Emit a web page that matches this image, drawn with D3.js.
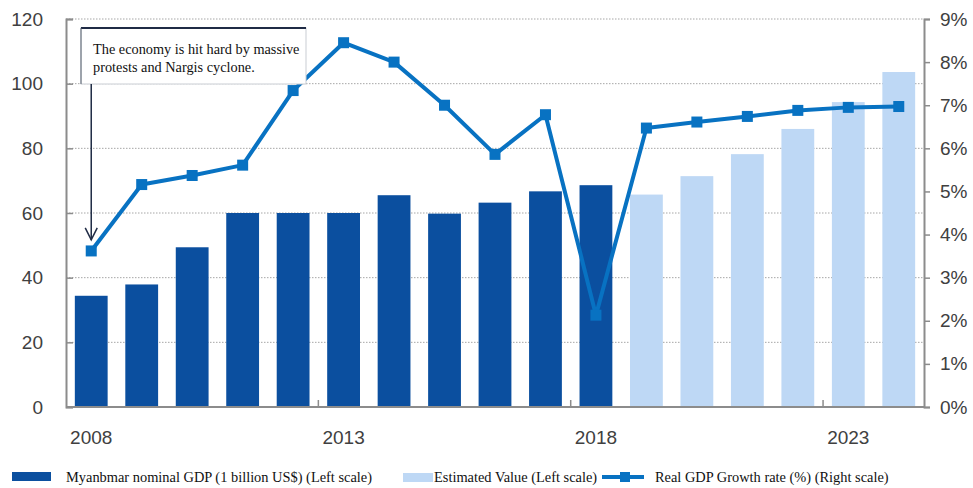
<!DOCTYPE html>
<html>
<head>
<meta charset="utf-8">
<script src="https://cdn.jsdelivr.net/npm/d3@7"></script>
<style>
  html, body { margin: 0; padding: 0; background: #fff; }
  svg { display: block; }
</style>
</head>
<body>
<svg id="chart" width="973" height="488"></svg>
<script>
// Myanmar nominal GDP (billion US$) and real GDP growth rate (%)
const years = [2008, 2009, 2010, 2011, 2012, 2013, 2014, 2015, 2016, 2017, 2018,
               2019, 2020, 2021, 2022, 2023, 2024];
const nominalGDP = [34.4, 37.9, 49.4, 60.0, 60.0, 60.0, 65.5, 59.8, 63.2, 66.7, 68.6,
                    null, null, null, null, null, null];
const estimatedGDP = [null, null, null, null, null, null, null, null, null, null, null,
                      65.7, 71.4, 78.2, 86.0, 94.3, 103.6];
const growthRate = [3.62, 5.16, 5.37, 5.61, 7.34, 8.45, 8.0, 7.0, 5.86, 6.78, 2.13,
                    6.47, 6.61, 6.74, 6.88, 6.95, 6.97];
const leftTicks = [0, 20, 40, 60, 80, 100, 120];
const rightTicks = [0, 1, 2, 3, 4, 5, 6, 7, 8, 9];
const yearLabels = [2008, 2013, 2018, 2023];
const annotationLines = ["The economy is hit hard by massive", "protests and Nargis cyclone."];
const legendLabels = ["Myanbmar nominal GDP (1 billion US$) (Left scale)",
                      "Estimated Value (Left scale)",
                      "Real GDP Growth rate (%) (Right scale)"];

const colDark = "#0b4f9f";
const colLight = "#bed8f5";
const colLine = "#0872c2";
const colAxis = "#8c8c8c";
const colText = "#404040";
const sansFont = "'Liberation Sans', Arial, sans-serif";
const serifFont = "'Liberation Serif', 'Times New Roman', serif";

const svg = d3.select("#chart");
const plotL = 66, plotR = 924, plotT = 19, plotB = 407;

const x = d3.scaleBand().domain(years).range([plotL, plotR]).paddingInner(0.35).paddingOuter(0.175);
const yL = d3.scaleLinear().domain([0, 120]).range([plotB, plotT]);
const yR = d3.scaleLinear().domain([0, 9]).range([plotB, plotT]);

// dotted gridlines on the left scale
svg.append("g").selectAll("line")
  .data(leftTicks.filter(d => d > 0))
  .join("line")
  .attr("x1", plotL).attr("x2", plotR)
  .attr("y1", d => yL(d)).attr("y2", d => yL(d))
  .attr("stroke", "#a6a6a6").attr("stroke-width", 1)
  .attr("stroke-dasharray", "1.5,1.5");

// bars: actual and estimated
const bars = svg.append("g");
bars.selectAll("rect.actual")
  .data(years.map((y, i) => ({ y, v: nominalGDP[i] })).filter(d => d.v != null))
  .join("rect").attr("class", "actual")
  .attr("x", d => x(d.y)).attr("width", x.bandwidth())
  .attr("y", d => yL(d.v)).attr("height", d => yL(0) - yL(d.v))
  .attr("fill", colDark);
bars.selectAll("rect.est")
  .data(years.map((y, i) => ({ y, v: estimatedGDP[i] })).filter(d => d.v != null))
  .join("rect").attr("class", "est")
  .attr("x", d => x(d.y)).attr("width", x.bandwidth())
  .attr("y", d => yL(d.v)).attr("height", d => yL(0) - yL(d.v))
  .attr("fill", colLight);

// left axis
const axL = svg.append("g").attr("transform", `translate(${plotL},0)`)
  .call(d3.axisLeft(yL).tickValues(leftTicks).tickSize(-7).tickFormat(d3.format("d")));
axL.select(".domain").attr("stroke", colAxis).attr("stroke-width", 2);
axL.selectAll(".tick line").attr("stroke", colAxis).attr("stroke-width", 1.5);
axL.selectAll(".tick text").attr("x", -23).attr("fill", colText)
  .style("font-family", sansFont).style("font-size", "19px");

// right axis
const axR = svg.append("g").attr("transform", `translate(${plotR},0)`)
  .call(d3.axisRight(yR).tickValues(rightTicks).tickSize(6).tickFormat(d => d + "%"));
axR.select(".domain").attr("stroke", colAxis).attr("stroke-width", 2);
axR.selectAll(".tick line").attr("stroke", colAxis).attr("stroke-width", 1.5);
axR.selectAll(".tick text").attr("x", 16).attr("fill", colText)
  .style("font-family", sansFont).style("font-size", "19px");

// bottom axis: ticks every five years on band boundaries, labels centred on bands
const axB = svg.append("g");
axB.append("line").attr("x1", plotL).attr("x2", plotR).attr("y1", plotB).attr("y2", plotB)
  .attr("stroke", colAxis).attr("stroke-width", 2);
axB.selectAll("line.tk")
  .data([2013, 2018, 2023])
  .join("line").attr("class", "tk")
  .attr("x1", d => x(d) - x.step() * x.paddingInner() / 2)
  .attr("x2", d => x(d) - x.step() * x.paddingInner() / 2)
  .attr("y1", plotB).attr("y2", plotB - 7)
  .attr("stroke", colAxis).attr("stroke-width", 1.5);
axB.selectAll("text")
  .data(yearLabels)
  .join("text")
  .attr("x", d => x(d) + x.bandwidth() / 2)
  .attr("y", 444)
  .attr("text-anchor", "middle")
  .attr("fill", colText)
  .style("font-family", sansFont).style("font-size", "19px")
  .text(d => d);

// growth rate line with square markers
const pts = years.map((y, i) => ({ y, v: growthRate[i] }));
const line = d3.line().x(d => x(d.y) + x.bandwidth() / 2).y(d => yR(d.v));
svg.append("path").datum(pts)
  .attr("d", line).attr("fill", "none")
  .attr("stroke", colLine).attr("stroke-width", 4).attr("stroke-linejoin", "round");
svg.append("g").selectAll("rect")
  .data(pts).join("rect")
  .attr("x", d => x(d.y) + x.bandwidth() / 2 - 5.5)
  .attr("y", d => yR(d.v) - 5.5)
  .attr("width", 11).attr("height", 11)
  .attr("fill", colLine);

// annotation box with arrow to 2008
const note = svg.append("g");
const bx = 81, by = 28, bw = 225, bh = 56;
note.append("rect").attr("x", bx).attr("y", by).attr("width", bw).attr("height", bh)
  .attr("fill", "#fff").attr("stroke", "#c9cdd3").attr("stroke-width", 1);
note.append("line").attr("x1", bx).attr("x2", bx + bw).attr("y1", by).attr("y2", by)
  .attr("stroke", "#1f2b45").attr("stroke-width", 2);
note.append("line").attr("x1", bx).attr("x2", bx).attr("y1", by).attr("y2", by + bh)
  .attr("stroke", "#56606e").attr("stroke-width", 1);
note.selectAll("text").data(annotationLines).join("text")
  .attr("x", 93).attr("y", (d, i) => 54 + i * 18)
  .attr("fill", "#111")
  .style("font-family", serifFont).style("font-size", "14.3px")
  .text(d => d);
const ax0 = x(2008) + x.bandwidth() / 2;
const tipY = yR(growthRate[0]) - 11;
note.append("line").attr("x1", ax0).attr("x2", ax0).attr("y1", by + bh).attr("y2", tipY)
  .attr("stroke", "#1f2b45").attr("stroke-width", 1.5);
note.append("path")
  .attr("d", `M${ax0 - 6},${tipY - 12} L${ax0},${tipY} L${ax0 + 6},${tipY - 12}`)
  .attr("fill", "none").attr("stroke", "#1f2b45").attr("stroke-width", 1.5);

// legend
const lg = svg.append("g");
const ly = 477;
lg.append("rect").attr("x", 12).attr("y", ly - 5).attr("width", 39).attr("height", 9).attr("fill", colDark);
lg.append("rect").attr("x", 403).attr("y", ly - 4).attr("width", 30).attr("height", 9).attr("fill", colLight);
lg.append("line").attr("x1", 602).attr("x2", 644).attr("y1", ly).attr("y2", ly)
  .attr("stroke", colLine).attr("stroke-width", 4);
lg.append("rect").attr("x", 620).attr("y", ly - 5).attr("width", 10).attr("height", 10).attr("fill", colLine);
lg.selectAll("text").data(legendLabels).join("text")
  .attr("x", (d, i) => [66, 434, 655][i])
  .attr("y", ly + 5)
  .attr("fill", "#111")
  .style("font-family", serifFont).style("font-size", "14.4px")
  .text(d => d);
</script>
</body>
</html>
